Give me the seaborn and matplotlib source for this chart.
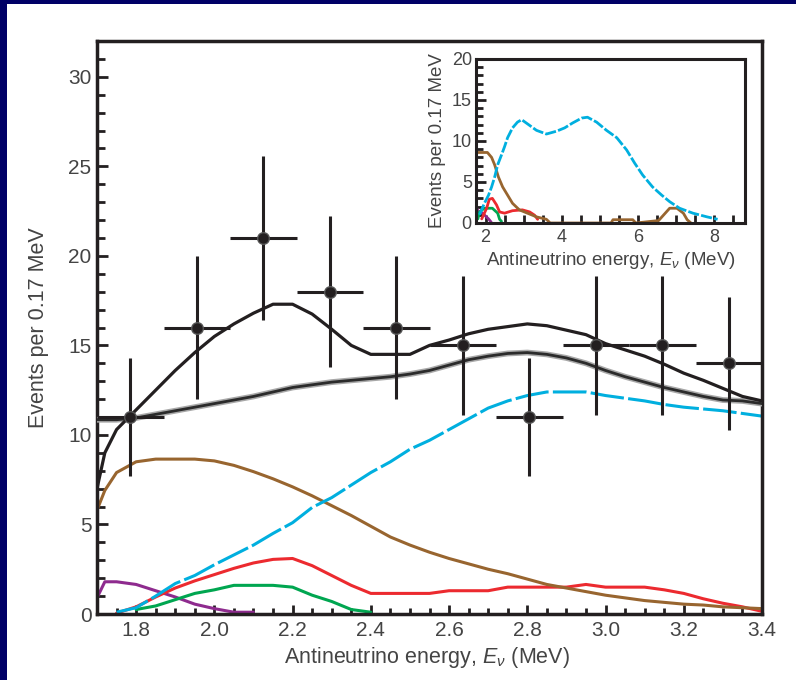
import numpy as np
import matplotlib
matplotlib.use("Agg")
import matplotlib.pyplot as plt
from matplotlib.patches import Rectangle
from matplotlib.ticker import MultipleLocator, FormatStrFormatter
import seaborn as sns

nan = np.nan

# ---- measured spectrum: 0.17 MeV bins ----
bin_centres = [1.785, 1.955, 2.125, 2.295, 2.465, 2.635, 2.805, 2.975, 3.145, 3.315]
bin_half_width = 0.085
counts = [11, 16, 21, 18, 16, 15, 11, 15, 15, 14]
count_errors = [3.3, 4.0, 4.6, 4.2, 4.0, 3.9, 3.3, 3.9, 3.9, 3.7]

# ---- model curves on a common energy grid (MeV) ----
energy = [1.70, 1.72, 1.75, 1.80, 1.85, 1.90, 1.95, 2.00, 2.05, 2.10, 2.15, 2.20,
          2.25, 2.30, 2.35, 2.40, 2.45, 2.50, 2.55, 2.60, 2.65, 2.70, 2.75, 2.80,
          2.85, 2.90, 2.95, 3.00, 3.05, 3.10, 3.15, 3.20, 3.25, 3.30, 3.35, 3.40]
best_fit = [7.0, 9.0, 10.3, 11.4, 12.5, 13.6, 14.6, 15.5, 16.2, 16.8, 17.3, 17.3,
            16.75, 15.9, 15.0, 14.5, 14.5, 14.5, 15.0, 15.3, 15.65, 15.9, 16.05, 16.2,
            16.1, 15.85, 15.6, 15.1, 14.75, 14.4, 13.95, 13.45, 13.05, 12.6, 12.15, 11.9]
no_oscillation = [10.85, 10.85, 10.85, 10.95, 11.15, 11.35, 11.55, 11.75, 11.95, 12.15, 12.4, 12.65,
                  12.8, 12.95, 13.05, 13.15, 13.25, 13.4, 13.6, 13.9, 14.2, 14.4, 14.55, 14.6,
                  14.5, 14.3, 14.0, 13.6, 13.25, 12.95, 12.65, 12.4, 12.15, 11.95, 11.9, 11.75]
background = [5.8, 6.9, 7.9, 8.5, 8.65, 8.65, 8.65, 8.55, 8.3, 7.95, 7.55, 7.1,
              6.6, 6.05, 5.5, 4.9, 4.3, 3.85, 3.45, 3.1, 2.8, 2.5, 2.25, 1.95,
              1.65, 1.45, 1.25, 1.05, 0.9, 0.75, 0.65, 0.55, 0.5, 0.4, 0.35, 0.3]
reactor = [nan, nan, 0.1, 0.35, 1.0, 1.7, 2.15, 2.75, 3.3, 3.85, 4.5, 5.1,
           5.95, 6.5, 7.2, 7.9, 8.5, 9.2, 9.7, 10.3, 10.9, 11.5, 11.9, 12.2,
           12.4, 12.4, 12.4, 12.2, 12.05, 11.9, 11.7, 11.55, 11.45, 11.35, 11.2, 11.05]
geo_uranium = [nan, nan, 0.05, 0.4, 0.95, 1.45, 1.85, 2.2, 2.55, 2.85, 3.05, 3.1,
               2.7, 2.15, 1.6, 1.15, 1.15, 1.15, 1.15, 1.3, 1.3, 1.3, 1.5, 1.5,
               1.5, 1.5, 1.65, 1.5, 1.5, 1.5, 1.35, 1.15, 0.85, 0.6, 0.4, 0.15]
geo_thorium = [nan, nan, nan, 0.25, 0.45, 0.8, 1.15, 1.35, 1.6, 1.6, 1.6, 1.5,
               1.05, 0.7, 0.25, 0.1, nan, nan, nan, nan, nan, nan, nan, nan,
               nan, nan, nan, nan, nan, nan, nan, nan, nan, nan, nan, nan]
accidentals = [0.9, 1.8, 1.8, 1.65, 1.3, 0.95, 0.55, 0.3, 0.1, 0.1, nan, nan,
               nan, nan, nan, nan, nan, nan, nan, nan, nan, nan, nan, nan,
               nan, nan, nan, nan, nan, nan, nan, nan, nan, nan, nan, nan]

# ---- full-range expectation shown in the inset ----
inset_reactor_e = [1.84, 1.97, 2.08, 2.16, 2.24, 2.32, 2.42, 2.50, 2.58, 2.71, 2.84, 2.95,
                   3.10, 3.34, 3.60, 3.87, 4.08, 4.29, 4.53, 4.68, 4.92, 5.18, 5.45, 5.71,
                   5.92, 6.13, 6.39, 6.63, 6.84, 7.10, 7.45, 7.82, 8.10]
inset_reactor = [1.0, 2.4, 3.4, 4.4, 5.6, 7.1, 8.3, 9.3, 10.4, 11.6, 12.3, 12.6,
                 12.1, 11.3, 10.85, 11.2, 11.6, 12.2, 12.8, 12.9, 12.3, 11.3, 10.4, 8.9,
                 7.3, 5.85, 4.4, 3.4, 2.6, 1.8, 1.2, 0.75, 0.45]
inset_background_e = [1.79, 2.05, 2.16, 2.24, 2.34, 2.45, 2.58, 2.71, 2.89, 3.10, 3.34, 3.60,
                      3.70, 5.30, 5.35, 5.87, 5.95, 6.55, 6.84, 7.03, 7.20, 7.30, 7.40]
inset_background = [8.6, 8.6, 8.0, 7.1, 5.6, 4.4, 3.4, 2.4, 1.6, 1.2, 0.75, 0.45,
                    0.0, 0.0, 0.4, 0.4, 0.0, 0.3, 1.8, 1.8, 1.2, 0.4, 0.0]
inset_uranium_e = [1.90, 2.03, 2.10, 2.18, 2.29, 2.37, 2.50, 2.71, 2.97, 3.16, 3.29, 3.37]
inset_uranium = [0.5, 1.8, 2.9, 3.0, 2.2, 1.35, 1.2, 1.5, 1.6, 1.35, 0.95, 0.45]
inset_thorium_e = [1.80, 1.84, 1.97, 2.18, 2.32, 2.37, 2.42]
inset_thorium = [0.5, 1.35, 1.8, 1.8, 1.2, 0.45, 0.2]
inset_accidentals_e = [1.76, 1.80, 1.92, 2.08, 2.15]
inset_accidentals = [1.9, 1.5, 1.2, 0.5, 0.1]

# ---- styling ----
INK = "#231f20"
TEXT = "#444444"
BROWN = "#98652f"
CYAN = "#00afdf"
RED = "#ec2a2f"
GREEN = "#00a650"
PURPLE = "#8e2b8e"
DASH = (0, (11, 1.4))

sns.set_theme(style="ticks")
plt.rcParams["font.family"] = ["Liberation Sans", "DejaVu Sans"]
plt.rcParams["mathtext.fontset"] = "custom"
plt.rcParams["mathtext.rm"] = "Liberation Sans"
plt.rcParams["mathtext.it"] = "Liberation Sans:italic"

W, H = 796, 680
fig = plt.figure(figsize=(W / 100, H / 100), dpi=100, facecolor="white")

# dark frame strips along the top and left edges
fig.add_artist(Rectangle((0, 0), 7 / W, 1, transform=fig.transFigure,
                         facecolor="#000066", edgecolor="none", zorder=10))
fig.add_artist(Rectangle((0, 1 - 4 / H), 1, 4 / H, transform=fig.transFigure,
                         facecolor="#000066", edgecolor="none", zorder=10))

ax = fig.add_axes([97 / W, 1 - 614 / H, (762 - 97) / W, (614 - 41) / H])
ax.set_facecolor("white")


def curve(axis, x, y, color, lw, ls="-", z=2):
    sns.lineplot(x=x, y=y, ax=axis, color=color, linewidth=lw, linestyle=ls,
                 estimator=None, sort=False, legend=False, zorder=z)


curve(ax, energy, accidentals, PURPLE, 2.2)
curve(ax, energy, geo_thorium, GREEN, 2.2)
curve(ax, energy, geo_uranium, RED, 2.2)
curve(ax, energy, background, BROWN, 2.2)
curve(ax, energy, reactor, CYAN, 2.2, DASH)
curve(ax, energy, no_oscillation, "#a8a8a8", 4.2, z=3)
curve(ax, energy, no_oscillation, "#2b2b2b", 2.0, z=3)
curve(ax, energy, best_fit, INK, 2.3, z=3)

ax.errorbar(bin_centres, counts, xerr=bin_half_width, yerr=count_errors,
            fmt="none", ecolor=INK, elinewidth=2.2, capsize=0, zorder=4)
sns.scatterplot(x=bin_centres, y=counts, ax=ax, color=INK, s=70,
                edgecolor="#555555", linewidth=1.0, zorder=5, legend=False)

ax.set_xlim(1.7, 3.4)
ax.set_ylim(0, 32)
ax.xaxis.set_major_locator(MultipleLocator(0.2))
ax.xaxis.set_minor_locator(MultipleLocator(0.05))
ax.xaxis.set_major_formatter(FormatStrFormatter("%.1f"))
ax.yaxis.set_major_locator(MultipleLocator(5))
ax.yaxis.set_minor_locator(MultipleLocator(1))
for s in ax.spines.values():
    s.set_visible(True)
    s.set_linewidth(2.5)
    s.set_color(INK)
ax.tick_params(which="both", direction="in", color=INK, width=2.0,
               labelcolor=TEXT, labelsize=15, top=False, right=False)
ax.tick_params(axis="x", which="major", length=6.5, pad=5)
ax.tick_params(axis="x", which="minor", length=4.5)
ax.tick_params(axis="y", which="major", length=8, pad=4)
ax.tick_params(axis="y", which="minor", length=5.5)
ax.set_xlabel(r"Antineutrino energy, $E_{\nu}$ (MeV)", fontsize=15.5, color=TEXT)
ax.set_ylabel("Events per 0.17 MeV", fontsize=15.5, color=TEXT)
ax.xaxis.set_label_coords(0.496, -0.054)
ax.yaxis.set_label_coords(-0.072, 0.5)

# ---- inset: expected spectrum over the full energy range ----
axi = fig.add_axes([476 / W, 1 - 223 / H, (745 - 476) / W, (223 - 59) / H])
axi.set_facecolor("white")
curve(axi, inset_accidentals_e, inset_accidentals, PURPLE, 2.0)
curve(axi, inset_thorium_e, inset_thorium, GREEN, 2.0)
curve(axi, inset_uranium_e, inset_uranium, RED, 2.0)
curve(axi, inset_background_e, inset_background, BROWN, 2.0)
curve(axi, inset_reactor_e, inset_reactor, CYAN, 2.0, (0, (4, 0.8)))
axi.set_xlim(1.75, 8.82)
axi.set_ylim(0, 20)
axi.xaxis.set_major_locator(MultipleLocator(2))
axi.xaxis.set_minor_locator(MultipleLocator(0.5))
axi.yaxis.set_major_locator(MultipleLocator(5))
axi.yaxis.set_minor_locator(MultipleLocator(1))
for s in axi.spines.values():
    s.set_visible(True)
    s.set_linewidth(2.2)
    s.set_color(INK)
axi.tick_params(which="both", direction="in", color=INK, width=2.0,
                labelcolor=TEXT, labelsize=13, top=False, right=False)
axi.tick_params(axis="x", which="both", length=6, pad=4)
axi.tick_params(axis="y", which="major", length=7, pad=3)
axi.tick_params(axis="y", which="minor", length=5)
axi.set_xlabel(r"Antineutrino energy, $E_{\nu}$ (MeV)", fontsize=13.5, color=TEXT, labelpad=3)
axi.set_ylabel("Events per 0.17 MeV", fontsize=13.5, color=TEXT, labelpad=4)

fig.savefig("out.png", dpi=100, facecolor="white")
